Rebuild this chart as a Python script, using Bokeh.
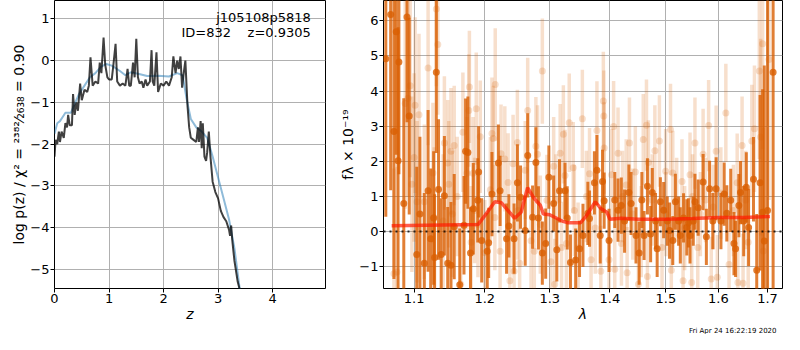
import numpy as np
from bokeh.plotting import figure
from bokeh.layouts import row
from bokeh.models import Range1d, FixedTicker, Label, Span, PrintfTickFormatter, Title
from bokeh.embed import file_html
from bokeh.resources import INLINE

FONT = "DejaVu Sans"

# ---------------- left panel: log p(z) ----------------
pz_z = [0.00, 0.02, 0.05, 0.08, 0.10, 0.13, 0.17, 0.20, 0.23, 0.25, 0.28, 0.32, 0.34, 0.37,
        0.40, 0.43, 0.47, 0.50, 0.55, 0.60, 0.63, 0.66, 0.70, 0.75, 0.80, 0.83, 0.86, 0.90,
        0.93, 0.97, 1.00, 1.05, 1.08, 1.12, 1.15, 1.20, 1.25, 1.30, 1.34, 1.37, 1.40, 1.44,
        1.47, 1.50, 1.53, 1.56, 1.60, 1.63, 1.67, 1.70, 1.75, 1.78, 1.80, 1.83, 1.87, 1.90,
        1.95, 2.00, 2.05, 2.10, 2.15, 2.18, 2.22, 2.25, 2.28, 2.31, 2.34, 2.37, 2.40, 2.44,
        2.47, 2.50, 2.55, 2.60, 2.63, 2.65, 2.68, 2.70, 2.72, 2.75, 2.78, 2.80, 2.83, 2.86,
        2.90, 2.95, 3.00, 3.05, 3.10, 3.15, 3.20, 3.22, 3.24, 3.26, 3.30, 3.36, 3.40]
pz_logp = [-2.30, -1.90, -2.00, -1.70, -1.95, -1.70, -1.85, -1.50, -1.60, -1.30, -1.55, -1.55, -0.80, -1.30,
           -1.00, -1.20, -0.55, -0.95, -0.70, -0.75, -0.60, 0.08, -0.60, -0.50, -0.55, -0.05, -0.30, 0.55,
           -0.10, -0.40, -0.45, -0.45, -0.10, 0.40, -0.50, -0.60, -0.55, -0.60, -0.20, -0.60, -0.60, -0.05,
           -0.40, 0.52, -0.40, -0.55, -0.50, -0.65, -0.45, -0.60, -0.50, 0.25, -0.50, -0.60, 0.20, -0.75,
           -0.55, -0.60, -0.50, -0.60, -0.40, 0.10, -0.30, 0.00, -0.20, 0.10, -0.65, -0.30, 0.00, -1.10,
           -1.60, -1.85, -1.90, -1.95, -1.60, -1.95, -1.45, -2.10, -1.50, -2.30, -2.40, -2.20, -1.70, -2.30,
           -2.90, -3.15, -3.30, -3.60, -3.75, -3.85, -4.05, -4.20, -3.95, -4.30, -4.80, -5.30, -5.50]

smooth_z = [0.00, 0.05, 0.10, 0.15, 0.20, 0.30, 0.35, 0.45, 0.55, 0.65, 0.75, 0.85, 0.95, 1.05,
            1.20, 1.30, 1.40, 1.55, 1.70, 1.90, 2.10, 2.25, 2.35, 2.42, 2.50, 2.60, 2.70, 2.80,
            2.90, 3.00, 3.10, 3.20, 3.30, 3.40]
smooth_logp = [-1.75, -1.50, -1.45, -1.35, -1.25, -1.25, -1.10, -0.80, -0.60, -0.40, -0.30, -0.15, -0.08, -0.12,
               -0.25, -0.35, -0.28, -0.32, -0.37, -0.36, -0.38, -0.30, -0.35, -0.90, -1.40, -1.60, -1.70, -1.85,
               -2.30, -2.80, -3.30, -3.80, -4.50, -5.50]

pz_xticks = [0, 1, 2, 3, 4]
pz_yticks = [-5, -4, -3, -2, -1, 0, 1]

# ---------------- right panel: spectrum ----------------
dark_wave = [1.0623, 1.0687, 1.0730, 1.0760, 1.0785, 1.0796, 1.0861, 1.0904, 1.0934, 1.1036,
             1.1079, 1.1139, 1.1191, 1.1227, 1.1268, 1.1281, 1.1305, 1.1336, 1.1373, 1.1418,
             1.1465, 1.1511, 1.1557, 1.1636, 1.1697, 1.1720, 1.1753, 1.1791, 1.1832, 1.1897,
             1.1910, 1.1955, 1.2037, 1.2058, 1.2107, 1.2203, 1.2229, 1.2327, 1.2362, 1.2441,
             1.2492, 1.2541, 1.2613, 1.2652, 1.2728, 1.2780, 1.2820, 1.2882, 1.2935, 1.2986,
             1.3063, 1.3114, 1.3157, 1.3247, 1.3283, 1.3336, 1.3422, 1.3486, 1.3543, 1.3625,
             1.3653, 1.3735, 1.3778, 1.3834, 1.3873, 1.3901, 1.3985, 1.4084, 1.4141, 1.4198,
             1.4255, 1.4331, 1.4370, 1.4457, 1.4514, 1.4562, 1.4602, 1.4662, 1.4720, 1.4750,
             1.4809, 1.4839, 1.4898, 1.4958, 1.5025, 1.5067, 1.5127, 1.5176, 1.5236, 1.5268,
             1.5329, 1.5391, 1.5422, 1.5452, 1.5514, 1.5546, 1.5608, 1.5703, 1.5766, 1.5829,
             1.5892, 1.5957, 1.6052, 1.6116, 1.6168, 1.6246, 1.6311, 1.6344, 1.6409, 1.6443,
             1.6508, 1.6561, 1.6608, 1.6708, 1.6775, 1.6844, 1.6897, 1.6932, 1.7000, 1.7117]
dark_flux = [4.92, 6.18, 2.85, 5.69, 2.02, 4.83, 0.80, 6.11, 3.29, -0.65,
             0.50, -0.90, 1.16, -0.20, 0.39, -0.74, 4.54, 1.20, -0.65, 1.02,
             -0.90, -0.96, 0.14, -1.51, 0.18, 2.29, 2.25, -0.61, 0.65, 0.89,
             1.70, -0.25, -0.56, -0.32, 1.07, 1.95, 1.16, -0.20, 0.16, -0.20,
             1.39, 0.98, 0.03, 2.17, 0.41, 1.97, 0.39, -0.61, -0.34, 1.55,
             0.80, -0.52, 1.16, 1.16, 0.39, -0.88, -0.81, -0.49, -0.11, 0.52,
             0.37, 1.39, 1.75, -0.11, 1.43, 0.88, -0.25, 0.90, 0.61, 0.74,
             0.30, 1.11, 0.80, -0.11, -0.61, 0.90, -0.11, 1.29, -0.07, 1.11,
             0.30, -0.49, 0.85, 0.61, 0.30, 0.03, -0.25, 0.85, 0.30, -0.11,
             0.39, 0.12, 0.25, -0.11, 0.30, 0.85, 0.68, 1.41, -0.15, 1.22,
             0.30, 1.22, 0.30, 1.07, 0.52, 0.89, -0.34, -0.49, 0.74, 1.11,
             0.30, 1.26, 0.12, 1.49, -1.10, 1.39, 0.55, -0.27, 0.60, 4.54]
dark_err = [4.5, 5.0, 4.2, 3.5, 3.8, 3.2, 3.0, 3.0, 2.8, 2.5,
            2.2, 2.0, 2.3, 2.0, 1.9, 1.8, 2.3, 2.0, 1.6, 1.7,
            1.6, 1.8, 1.5, 1.6, 1.4, 1.5, 1.6, 1.3, 1.3, 1.2,
            1.3, 1.2, 1.1, 1.0, 1.2, 1.1, 1.0, 1.0, 0.9, 1.0,
            1.1, 0.9, 1.0, 1.2, 0.9, 1.0, 0.9, 0.9, 1.0, 0.9,
            0.8, 0.9, 0.9, 0.8, 0.9, 0.8, 0.9, 0.8, 0.9, 0.9,
            0.8, 0.9, 1.0, 0.8, 0.9, 0.8, 0.9, 0.8, 0.9, 0.8,
            0.9, 0.8, 0.9, 0.8, 0.9, 0.8, 0.7, 0.8, 0.8, 0.7,
            0.8, 0.8, 0.7, 0.8, 0.7, 0.8, 0.7, 0.8, 0.7, 0.8,
            0.7, 0.8, 0.7, 0.8, 0.7, 0.8, 0.8, 0.8, 0.8, 0.8,
            0.8, 0.9, 0.8, 0.9, 0.8, 0.9, 0.9, 0.8, 0.9, 0.9,
            1.0, 1.0, 1.1, 1.2, 1.6, 2.5, 3.5, 5.0, 7.0, 7.0]

light_wave = [1.0730, 1.0770, 1.0880, 1.0917, 1.0947, 1.0970, 1.1000, 1.1013, 1.1040, 1.1066,
              1.1139, 1.1191, 1.1258, 1.1275, 1.1305, 1.1326, 1.1400, 1.1418, 1.1465, 1.1480,
              1.1511, 1.1530, 1.1557, 1.1600, 1.1650, 1.1681, 1.1740, 1.1767, 1.1775, 1.1800,
              1.1828, 1.1850, 1.1875, 1.1900, 1.1934, 1.2000, 1.2083, 1.2107, 1.2125, 1.2150,
              1.2156, 1.2229, 1.2243, 1.2300, 1.2350, 1.2377, 1.2426, 1.2441, 1.2492, 1.2500,
              1.2527, 1.2613, 1.2652, 1.2704, 1.2755, 1.2780, 1.2806, 1.2850, 1.2882, 1.2955,
              1.3019, 1.3063, 1.3080, 1.3100, 1.3168, 1.3190, 1.3220, 1.3247, 1.3270, 1.3316,
              1.3381, 1.3400, 1.3462, 1.3533, 1.3600, 1.3653, 1.3679, 1.3750, 1.3778, 1.3844,
              1.3887, 1.3895, 1.3901, 1.3985, 1.4028, 1.4064, 1.4084, 1.4141, 1.4200, 1.4220,
              1.4284, 1.4300, 1.4341, 1.4400, 1.4445, 1.4500, 1.4550, 1.4587, 1.4645, 1.4662,
              1.4680, 1.4750, 1.4797, 1.4880, 1.4928, 1.4995, 1.5000, 1.5085, 1.5100, 1.5127,
              1.5200, 1.5300, 1.5320, 1.5350, 1.5452, 1.5484, 1.5500, 1.5546, 1.5600, 1.5650,
              1.5703, 1.5750, 1.5810, 1.5861, 1.5900, 1.5957, 1.5980, 1.6050, 1.6149, 1.6213,
              1.6300, 1.6376, 1.6390, 1.6475, 1.6495, 1.6550, 1.6600, 1.6674, 1.6728, 1.6829,
              1.6856, 1.6897, 1.6911, 1.7030]
light_flux = [-1.20, -1.15, 3.65, 3.80, 4.15, 1.35, 2.11, 3.60, 0.85, 3.33,
              0.85, 4.66, 1.67, 0.40, 6.34, 5.33, 0.30, 2.52, 1.95, 1.35,
              2.29, 0.50, 2.45, 1.00, -1.50, 2.83, 1.66, 3.45, 4.12, -0.30,
              1.66, 0.60, 3.50, 0.20, 2.70, -0.60, 1.19, 2.79, 2.65, 0.40,
              4.19, -0.56, 2.22, 2.07, 1.40, -1.40, 1.93, -1.13, 2.54, 0.60,
              -0.90, 1.75, 3.45, -0.26, -0.56, 2.43, 2.20, 0.20, 4.57, 0.89,
              -0.86, 1.86, -1.50, 0.90, 2.23, -0.45, 2.77, 1.60, -0.34, 3.10,
              1.82, 0.60, -0.47, 3.21, 1.00, 1.65, -0.80, 0.10, 2.88, -1.13,
              3.72, 3.29, 2.38, -0.80, 1.62, 2.99, -1.07, 2.23, -0.34, 1.00,
              1.33, -1.17, 2.52, 0.50, 1.70, -1.50, 0.00, 2.62, 3.03, -1.28,
              1.97, 0.90, 2.30, 2.58, -0.45, 1.72, 0.50, 2.91, -1.10, 1.67,
              0.90, 1.43, -1.40, 0.10, 1.62, -1.45, 1.00, 2.52, -0.45, 0.50,
              2.20, 0.90, 3.02, -1.35, 0.70, 2.29, -1.30, 1.10, 3.38, -0.94,
              0.60, 1.39, -1.45, 2.45, -1.47, 0.90, -0.30, 2.58, 2.93, 4.57,
              2.69, 5.35, -0.55, 4.90]
light_err = [3.0, 3.0, 3.0, 2.8, 2.6, 2.5, 2.4, 2.5, 2.3, 2.3,
             2.2, 2.2, 2.0, 2.0, 2.2, 2.0, 1.9, 1.9, 1.8, 1.8,
             1.8, 1.8, 1.7, 1.7, 1.7, 1.7, 1.6, 1.6, 1.6, 1.6,
             1.6, 1.5, 1.6, 1.5, 1.6, 1.5, 1.5, 1.6, 1.5, 1.5,
             1.6, 1.4, 1.4, 1.5, 1.4, 1.5, 1.4, 1.4, 1.5, 1.4,
             1.4, 1.4, 1.5, 1.4, 1.4, 1.4, 1.4, 1.4, 1.5, 1.3,
             1.3, 1.4, 1.3, 1.3, 1.4, 1.3, 1.4, 1.3, 1.3, 1.4,
             1.3, 1.3, 1.3, 1.4, 1.3, 1.3, 1.3, 1.3, 1.4, 1.3,
             1.4, 1.3, 1.3, 1.3, 1.3, 1.3, 1.3, 1.3, 1.2, 1.3,
             1.3, 1.3, 1.3, 1.3, 1.3, 1.3, 1.3, 1.3, 1.3, 1.3,
             1.2, 1.3, 1.3, 1.3, 1.2, 1.2, 1.2, 1.3, 1.2, 1.2,
             1.2, 1.2, 1.2, 1.2, 1.2, 1.2, 1.2, 1.3, 1.2, 1.2,
             1.3, 1.2, 1.3, 1.2, 1.2, 1.3, 1.2, 1.3, 1.4, 1.3,
             1.3, 1.4, 1.3, 1.4, 1.4, 1.4, 1.5, 1.6, 1.8, 2.5,
             2.8, 3.0, 3.5, 4.0]

model_wave = [1.070, 1.190, 1.200, 1.215, 1.225, 1.235, 1.245, 1.255, 1.265, 1.275,
              1.285, 1.290, 1.300, 1.320, 1.330, 1.350, 1.360, 1.375, 1.385, 1.395,
              1.400, 1.420, 1.450, 1.500, 1.550, 1.600, 1.650, 1.705]
model_flux = [0.17, 0.20, 0.45, 0.85, 0.82, 0.60, 0.38, 0.55, 1.25, 0.95,
              0.75, 0.50, 0.48, 0.30, 0.25, 0.25, 0.45, 0.85, 0.65, 0.55,
              0.35, 0.38, 0.35, 0.35, 0.37, 0.40, 0.40, 0.43]

sp_xticks = [1.1, 1.2, 1.3, 1.4, 1.5, 1.6, 1.7]
sp_yticks = [-1, 0, 1, 2, 3, 4, 5, 6]

ORANGE = "#d95f02"
NBSP = "\u00a0"


def mpl_style(p, xticks, yticks):
    p.background_fill_color = "white"
    p.border_fill_color = "white"
    p.outline_line_color = "black"
    p.outline_line_width = 1
    p.outline_line_alpha = 1
    p.xaxis.ticker = FixedTicker(ticks=xticks)
    p.yaxis.ticker = FixedTicker(ticks=yticks)
    p.yaxis.major_label_overrides = {t: (str(t).replace("-", "\u2212")) for t in yticks}
    for ax in p.xaxis + p.yaxis:
        ax.axis_line_color = None
        ax.major_tick_in = 0
        ax.major_tick_out = 4
        ax.minor_tick_in = 0
        ax.minor_tick_out = 0
        ax.major_tick_line_color = "black"
        ax.major_label_text_font = FONT
        ax.major_label_text_font_size = "13px"
        ax.major_label_text_color = "black"
        ax.major_label_standoff = 1
        ax.axis_label_text_font = FONT
        ax.axis_label_text_font_size = "14px"
        ax.axis_label_text_color = "black"
        ax.axis_label_standoff = 0
    for g in p.xgrid + p.ygrid:
        g.grid_line_color = "#b0b0b0"
        g.grid_line_width = 1
    p.yaxis.major_label_orientation = "horizontal"


# ---- left figure
p1 = figure(width=330, height=334, x_range=Range1d(0, 4.97), y_range=Range1d(-5.46, 1.44),
            output_backend="svg", toolbar_location=None,
            min_border_left=54, min_border_right=5, min_border_top=0, min_border_bottom=30)
mpl_style(p1, pz_xticks, pz_yticks)
p1.xaxis.axis_label = "z"
p1.xaxis.axis_label_text_font_style = "italic"
p1.yaxis.axis_label = "log p(z) / \u03c7\u00b2 = \u00b2\u00b3\u2078\u00b2\u2044\u2082\u2086\u2083\u2088 = 0.90"
p1.yaxis.axis_label_text_font_style = "normal"

p1.line(smooth_z, smooth_logp, line_color="#1f77b4", line_alpha=0.5, line_width=2)
p1.line(pz_z, pz_logp, line_color="black", line_alpha=0.75, line_width=2)

p1.add_layout(Label(x=4.7, y=1.03, text="j105108p5818", text_align="right", text_baseline="middle",
                    text_font=FONT, text_font_size="13px", text_color="black"))
p1.add_layout(Label(x=4.7, y=0.68, text="ID=832" + NBSP * 4 + "z=0.9305", text_align="right",
                    text_baseline="middle", text_font=FONT, text_font_size="13px", text_color="black"))

# ---- right figure
p2 = figure(width=454, height=334, x_axis_type="log", x_range=Range1d(1.0593, 1.7316),
            y_range=Range1d(-1.62, 6.58), output_backend="svg", toolbar_location=None,
            min_border_left=53, min_border_right=2, min_border_top=0, min_border_bottom=30)
mpl_style(p2, sp_xticks, sp_yticks)
p2.xaxis.formatter = PrintfTickFormatter(format="%.1f")
p2.xaxis.axis_label = "\u03bb"
p2.xaxis.axis_label_text_font_style = "italic"
p2.yaxis.axis_label = "f\u03bb \u00d7 10\u207b\u00b9\u2079"
p2.yaxis.axis_label_text_font_style = "normal"

lw = np.array(light_wave); lf = np.array(light_flux); le = np.array(light_err)
dw = np.array(dark_wave); df = np.array(dark_flux); de = np.array(dark_err)

p2.segment(lw, lf - le, lw, lf + le, line_color=ORANGE, line_alpha=0.2, line_width=3.5)
p2.scatter(lw, lf, size=7, fill_color=ORANGE, fill_alpha=0.2, line_color=None)
p2.segment(dw, df - de, dw, df + de, line_color=ORANGE, line_alpha=0.8, line_width=3)
p2.scatter(dw, df, size=7, fill_color=ORANGE, fill_alpha=0.8, line_color=None)
p2.line(model_wave, model_flux, line_color="#ff1a00", line_alpha=0.7, line_width=3.5)
p2.add_layout(Span(location=0, dimension="width", line_color="black", line_width=2,
                   line_dash="dotted", line_alpha=0.8))

date_title = Title(text="Fri Apr 24 16:22:19 2020", align="right", text_font=FONT,
                   text_font_size="7px", text_font_style="normal", text_color="black",
                   standoff=0, offset=6)
p2.add_layout(date_title, "below")

layout = row(p1, p2)
open("out.html", "w").write(file_html(layout, INLINE))
